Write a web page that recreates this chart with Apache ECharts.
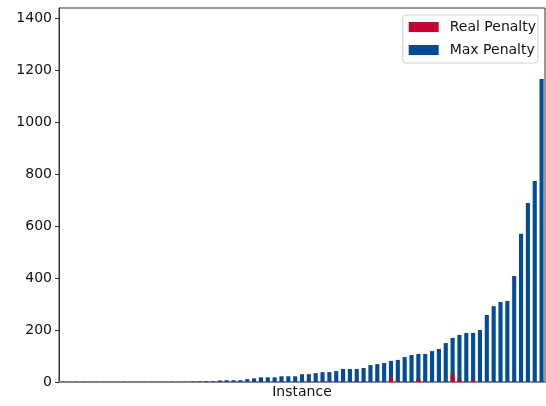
<!DOCTYPE html>
<html>
<head>
<meta charset="utf-8">
<script src="https://cdn.jsdelivr.net/npm/echarts@6/dist/echarts.min.js"></script>
<style>
  html, body { margin: 0; padding: 0; background: #fff; }
  #chart { width: 546px; height: 406px; }
</style>
</head>
<body>
<div id="chart"></div>
<script>
// Instances sorted by their maximum penalty
const instances = Array.from({ length: 71 }, (_, i) => 'I' + (i + 1));

const maxPenalty = [
  1, 1, 1, 1, 1, 1, 1, 1, 1, 1,
  1, 1, 1, 1, 1, 1, 1, 1, 1, 2,
  2, 3, 3, 6, 7, 7, 7, 11, 14, 18,
  18, 18, 22, 22, 22, 30, 30, 34, 38, 38,
  42, 50, 50, 50, 54, 65, 69, 73, 81, 85,
  96, 104, 108, 108, 119, 127, 150, 170, 181, 189,
  189, 200, 258, 292, 308, 312, 408, 571, 689, 774,
  1167
];

const realPenalty = [
  0, 0, 0, 0, 0, 0, 0, 0, 0, 0,
  0, 0, 0, 0, 0, 0, 0, 0, 0, 0,
  1, 1, 1, 1, 1, 1, 1, 1, 1, 1,
  1, 1, 1, 1, 1, 1, 3, 1, 3, 1,
  1, 1, 1, 3, 1, 1, 1, 1, 19, 3,
  1, 1, 11, 1, 1, 1, 1, 32, 10, 1,
  8, 1, 1, 1, 1, 1, 1, 1, 1, 1,
  1
];

const yTicks = [0, 200, 400, 600, 800, 1000, 1200, 1400];

const chart = echarts.init(document.getElementById('chart'), null, { renderer: 'canvas' });

chart.setOption({
  animation: false,
  backgroundColor: '#ffffff',
  textStyle: { fontFamily: 'DejaVu Sans' },
  grid: {
    left: 59, right: 1, top: 8, bottom: 24,
    show: true, borderColor: '#333', borderWidth: 1, backgroundColor: 'transparent'
  },
  legend: {
    data: ['Real Penalty', 'Max Penalty'],
    orient: 'vertical',
    right: 8, top: 15,
    icon: 'rect',
    itemWidth: 30, itemHeight: 10, itemGap: 9,
    padding: [5, 2, 6, 6],
    borderColor: '#d0d0d0', borderWidth: 1, borderRadius: 3,
    backgroundColor: '#fff',
    textStyle: { fontSize: 14, color: '#111', padding: [0, 0, 0, 6], fontFamily: 'DejaVu Sans' }
  },
  xAxis: {
    type: 'category',
    data: instances,
    boundaryGap: true,
    name: 'Instance',
    nameLocation: 'middle',
    nameGap: 3,
    nameTextStyle: { fontSize: 14, color: '#111', verticalAlign: 'top' },
    axisLine: { show: true, lineStyle: { color: '#888', width: 2 } },
    axisTick: { show: false },
    axisLabel: { show: false },
    splitLine: { show: false }
  },
  yAxis: {
    type: 'value',
    min: 0, max: 1440,
    axisLine: { show: true, lineStyle: { color: '#333', width: 1 } },
    axisTick: { show: true, length: 4, lineStyle: { color: '#333' }, customValues: yTicks },
    axisLabel: {
      fontSize: 14, color: '#111', margin: 7, customValues: yTicks,
      formatter: v => String(v)
    },
    splitLine: { show: false }
  },
  series: [
    {
      name: 'Max Penalty',
      type: 'bar',
      data: maxPenalty,
      barWidth: '60%',
      barGap: '-100%',
      itemStyle: { color: '#004C99' }
    },
    {
      name: 'Real Penalty',
      type: 'bar',
      data: realPenalty,
      barWidth: '60%',
      barGap: '-100%',
      itemStyle: { color: '#C8002F' }
    }
  ]
});
</script>
</body>
</html>
